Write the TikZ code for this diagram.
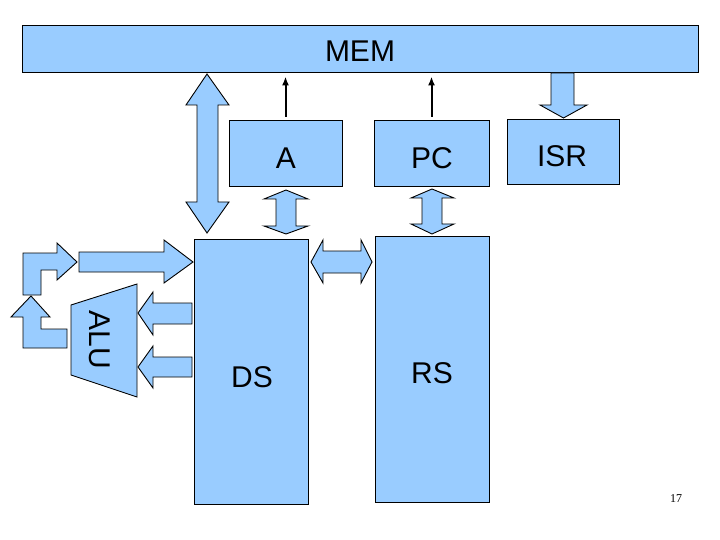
\documentclass[tikz,border=0pt]{standalone}
\usepackage{fontspec}
\setmainfont{Liberation Sans}
\newfontfamily\numfont{Liberation Serif}
\usetikzlibrary{arrows.meta}
\definecolor{boxblue}{HTML}{99CCFF}
\tikzset{
  box/.style={draw=black, fill=boxblue, line width=0.9pt, inner sep=0pt},
  blk/.style={draw=black, fill=boxblue, line width=0.9pt, line join=miter},
  lbl/.style={inner sep=0pt, font=\fontsize{30}{36}\selectfont},
  ptr/.style={line width=2pt, -{Latex[length=9pt,width=7pt]}, shorten <=3pt, shorten >=4pt}
}
\begin{document}
\begin{tikzpicture}[x=1pt, y=-1pt]
\useasboundingbox (0,0) rectangle (720,540);
% boxes
\node[box, minimum width=676pt, minimum height=47pt] (MEM) at (360,48.5) {};
\node[lbl] (MEMt) at (360,51) {MEM};
\node[box, minimum width=113pt, minimum height=66pt] (A) at (285.5,153) {};
\node[lbl] (At) at (286,158) {A};
\node[box, minimum width=115pt, minimum height=66pt] (PC) at (431.5,153) {};
\node[lbl] (PCt) at (432,158) {PC};
\node[box, minimum width=112pt, minimum height=65pt] (ISR) at (563.5,151.5) {};
\node[lbl] (ISRt) at (562,156) {ISR};
\node[box, minimum width=114pt, minimum height=265pt] (DS) at (251,371.5) {};
\node[lbl] (DSt) at (252,377) {DS};
\node[box, minimum width=114pt, minimum height=266pt] (RS) at (432,369) {};
\node[lbl] (RSt) at (432,373) {RS};
% thin pointer arrows
\draw[ptr] (A.north) -- (A.north |- MEM.south);
\draw[ptr] (PC.north) -- (PC.north |- MEM.south);
% MEM <-> DS big double arrow
\draw[blk] (207,74) -- (229,105) -- (218,105) -- (218,202) -- (229,202) -- (207,233)
  -- (186,202) -- (197,202) -- (197,105) -- (186,105) -- cycle;
% MEM -> ISR
\draw[blk] (551,73) -- (574,73) -- (574,105) -- (587,105) -- (563.5,118) -- (540,105) -- (551,105) -- cycle;
% A <-> DS
\draw[blk] (286,190) -- (308,199) -- (296,199) -- (296,226) -- (308,226) -- (286,234)
  -- (264,226) -- (276,226) -- (276,199) -- (264,199) -- cycle;
% PC <-> RS
\draw[blk] (432,189) -- (454,198) -- (442,198) -- (442,224) -- (454,224) -- (432,234)
  -- (411,224) -- (422,224) -- (422,198) -- (411,198) -- cycle;
% DS <-> RS
\draw[blk] (311,262) -- (323,240) -- (323,251) -- (361,251) -- (361,240) -- (372,262)
  -- (361,283) -- (361,273) -- (323,273) -- (323,283) -- cycle;
% to DS
\draw[blk] (79,252) -- (164,252) -- (164,240) -- (193,262) -- (164,283) -- (164,272) -- (79,272) -- cycle;
% DS -> ALU
\draw[blk] (138,313) -- (153,292) -- (153,303) -- (192,303) -- (192,324) -- (153,324) -- (153,335) -- cycle;
\draw[blk] (138,367) -- (153,346) -- (153,357) -- (192,357) -- (192,377) -- (153,377) -- (153,388) -- cycle;
% ALU
\draw[blk] (71,305) -- (137,284) -- (137,397) -- (71,375) -- cycle;
\node[lbl, rotate=-90] (ALU) at (100,340) {ALU};
% elbow arrows
\draw[blk] (23,295) -- (23,253) -- (57,253) -- (57,243) -- (77,262) -- (57,280) -- (57,270)
  -- (41,270) -- (41,295) -- cycle;
\draw[blk] (67,329) -- (41,329) -- (41,317) -- (50,317) -- (31,296) -- (11,317) -- (23,317)
  -- (23,348) -- (67,348) -- cycle;
% page number
\node[inner sep=0pt, font=\numfont\fontsize{12}{14}\selectfont] (pg) at (676,499) {17};
\end{tikzpicture}
\end{document}
